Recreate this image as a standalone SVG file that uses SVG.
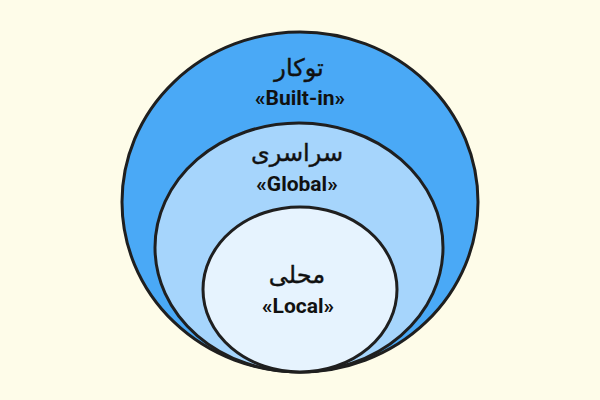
<svg xmlns="http://www.w3.org/2000/svg" width="600" height="400" viewBox="0 0 600 400">
<style>
.ring{stroke:#1f1f1f;stroke-width:3}
.fa{font-family:"Noto Sans","DejaVu Sans",sans-serif;font-size:24px;font-weight:normal;fill:#111;text-anchor:middle;stroke:#111;stroke-width:0.4}
.en{font-family:Roboto,"Liberation Sans",sans-serif;font-size:21px;font-weight:bold;fill:#111;text-anchor:middle}
</style>
<rect width="600" height="400" fill="#fefce9"/>
<g id="builtin">
<ellipse class="ring" cx="300" cy="202" rx="178" ry="170" fill="#4aa9f6"/>
<text class="fa" x="299" y="76">توکار</text>
<text class="en" x="300" y="105">«Built-in»</text>
</g>
<g id="global">
<ellipse class="ring" cx="299" cy="247.5" rx="144" ry="124.5" fill="#a6d5fc"/>
<text class="fa" x="297" y="161">سراسری</text>
<text class="en" x="297" y="191">«Global»</text>
</g>
<g id="local">
<ellipse class="ring" cx="300" cy="289.5" rx="97" ry="82.5" fill="#e6f3fe"/>
<text class="fa" x="297" y="283">محلی</text>
<text class="en" x="298" y="313">«Local»</text>
</g>
<g id="connectors"/>
</svg>
